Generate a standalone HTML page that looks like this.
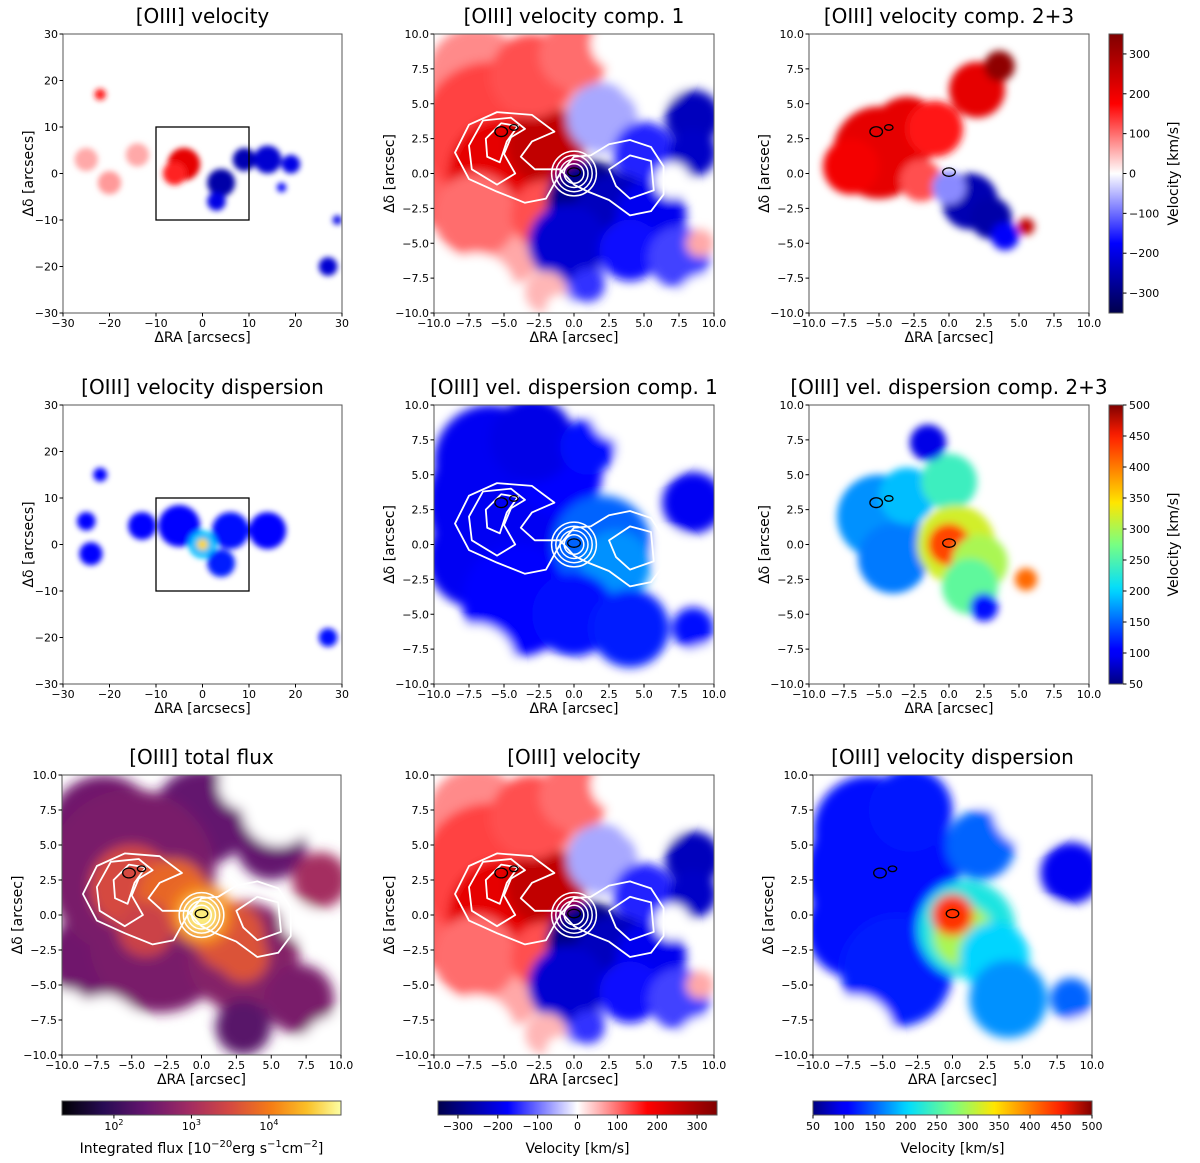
<!DOCTYPE html>
<html><head><meta charset="utf-8">
<style>
html,body{margin:0;padding:0;background:#fff;}
svg{display:block;font-family:"DejaVu Sans","Liberation Sans",sans-serif;}
</style></head>
<body>
<svg id="fig" width="1200" height="1163" viewBox="0 0 1200 1163" xmlns="http://www.w3.org/2000/svg"></svg>
<script>
// ---------- data (blobs: [ra, dec, radius arcsec, value]) ----------
const velWideBlobs = [[-4,2,3.5,210],[-6,0,2.5,150],[4,-2,3,-260],[3,-6,2,-200],[9,3,2.5,-250],[14,3,3,-220],[19,2,2,-200],[-22,17,1.2,160],[-20,-2,2.5,70],[-25,3,2.5,60],[-14,4,2.5,60],[27,-20,2,-220],[29,-10,1,-200],[17,-3,1,-180]];
const dispWideBlobs = [[-5,4,4.5,100],[6,3,4,110],[0,0,3,190],[0,0,1.2,350],[-24,-2,2.5,100],[-22,15,1.5,100],[14,3,4,100],[-13,4,3,100],[4,-4,3,120],[27,-20,2,110],[-25,5,2,100]];
const velMainBlobs = [[-7,7,3.5,80],[-1,6,3,70],[-8,-1,3.5,110],[-5,-5,3,60],[-6,3,5,130],[-5,0,4,210],[-2,2,2.8,260],[-7,-3,3,100],[-3,7,3,120],[0,8.5,2.5,100],[-2,-3,2.5,120],[2,4,2.5,-60],[5,1.5,2.2,-150],[0,-7,2.2,-100],[1,-2,3,-290],[3,-3,3,-240],[-0.5,-5,2.8,-220],[5.5,-3,2.5,-190],[4,-5.5,2.2,-170],[7.5,-6,2.2,-130],[8.5,4,2,-240],[8.5,1.5,1.7,-230],[-2,-8.5,1.5,50],[1,-8,1.2,-140],[9,-5,1,60]];
const velC23Blobs = [[-5,1.5,3.3,210],[-3,3,2.5,210],[-1,3.2,2,160],[2,6,2,210],[3.6,7.7,1.1,330],[-7,0.5,2,190],[-2,-0.5,1.5,120],[1.5,-2,2,-250],[3,-3.2,1.5,-260],[0,-1,1.2,-80],[4,-4.5,1,-180],[5.5,-3.8,0.6,260]];
const dispC1Blobs = [[-6,6,4,95],[-7,-1,3.5,95],[-5,3,5.5,95],[-4,-4,4,100],[-1,5,3,105],[2,0,3.5,150],[3,-1.5,2.5,170],[0,-5,3,110],[8.5,3,2.2,95],[4,-6,2.8,120],[-3,7.5,3,90],[1,7,2,110],[8.5,-6,1.5,110]];
const dispC23Blobs = [[-5,2,3,170],[-3,3.5,2,190],[-4,-1,2.5,160],[0,4.5,2,240],[-1.5,7.3,1.3,90],[0.5,0,2.8,320],[0,0,1.5,430],[2.2,-1.3,2,300],[1.5,-3,2,260],[2.5,-4.5,1,110],[5.5,-2.5,0.8,410]];
const dispMainBlobs = [[-6,6,4,110],[-7,-1,3.5,110],[-5,3,5.5,110],[-4,-4,4,120],[-3,7.5,3,115],[2,5,2.5,150],[1,-1,3.5,220],[0.8,-1.5,2.2,300],[0,0,1.5,440],[3,-3,2.5,200],[8.5,3,2.2,95],[4,-6,2.8,170],[8.5,-6,1.5,150]];
const fluxBlobs = [[-7,6,4,2.5],[0,7,3.5,2.4],[5,5,2.5,2.4],[-8,-3,3,2.5],[-5,3,6,2.6],[-3,-2,5,2.6],[3,-3,4,2.7],[7,-6,2.5,2.6],[3,-8,2,2.3],[8.5,2.5,2,3.0],[-5,2,3,3.5],[-2,1.5,2.5,3.8],[2,-1.5,2.5,3.6],[0,0,2.2,4.1],[0,0,1.3,4.8],[3,-3,1.8,3.6],[-4,-1,2,3.4]];
const holesMain = [[5.5,7.5,2.6],[3,9.3,1.8],[7,-0.5,1.3],[-7,-8.5,2.8],[-9.5,-6.5,1.2],[9.5,-9.5,2.3],[8,-9.5,1.2],[-1,-9.7,1],[9.5,9.5,1.2]];
const velTicks = [-300,-200,-100,0,100,200,300];
const dispTicks = [50,100,150,200,250,300,350,400,450,500];
const fluxTicks = [2,3,4];
const velRange = [-350,350];
const dispRange = [50,500];
const fluxRange = [1.33,4.93];
// contour vertices (arcsec)
const contourA = [[-8.5,1.5],[-7.5,3.5],[-5.5,4.4],[-3,4.2],[-1.4,3],[-3,2.3],[-3.8,1.2],[-2.8,0.3],[-1,0.3],[0,-0.8],[1,-1.3],[2.5,-1.9],[4,-3],[5.5,-2.7],[6.4,-1.5],[6.4,0.5],[5.5,1.9],[4,2.4],[2.5,2.1],[1.2,1.3],[0,1.2],[-1,0],[-2,-1.8],[-3.5,-2.1],[-5.5,-1.3],[-7.5,-0.4]];
const contourB = [[-7.5,2],[-6.5,3.8],[-4.5,4],[-3.5,3.2],[-4.5,2.6],[-5,1.4],[-4.2,0],[-5.5,-0.8],[-7.3,0.3]];
const contourC = [[-6.3,2.5],[-5.2,3.6],[-4,3.4],[-4.8,2.3],[-5.3,0.8],[-6.2,1.2]];
const contourD = [[2.5,0.3],[4,1.3],[5.5,0.9],[5.7,-1.2],[4,-1.8],[3,-0.9]];
const centerRings = [0.7,1.0,1.3,1.6];

const NS='http://www.w3.org/2000/svg';
const svg=document.getElementById('fig');
function mk(tag,parent){const e=document.createElementNS(NS,tag);parent.appendChild(e);return e;}
function lerpStops(stops,t){t=Math.max(0,Math.min(1,t));for(let i=1;i<stops.length;i++){if(t<=stops[i][0]){const a=stops[i-1],b=stops[i];const f=(t-a[0])/(b[0]-a[0]||1);const c=[0,1,2].map(k=>Math.round(a[1][k]+(b[1][k]-a[1][k])*f));return 'rgb('+c.join(',')+')';}}const l=stops[stops.length-1][1];return 'rgb('+l.join(',')+')';}
const seismic=[[0,[0,0,76]],[0.25,[0,0,255]],[0.5,[255,255,255]],[0.75,[255,0,0]],[1,[128,0,0]]];
const jet=[[0,[0,0,128]],[0.11,[0,0,255]],[0.125,[0,0,255]],[0.34,[0,220,255]],[0.5,[120,255,130]],[0.65,[255,230,0]],[0.89,[255,30,0]],[1,[128,0,0]]];
const inferno=[[0,[0,0,4]],[0.15,[40,11,84]],[0.3,[101,21,110]],[0.45,[159,42,99]],[0.6,[212,72,66]],[0.75,[245,125,21]],[0.88,[250,193,39]],[1,[252,255,164]]];
const cmVel=v=>lerpStops(seismic,(v-velRange[0])/(velRange[1]-velRange[0]));
const cmDisp=v=>lerpStops(jet,(v-dispRange[0])/(dispRange[1]-dispRange[0]));
const cmFlux=v=>lerpStops(inferno,(v-fluxRange[0])/(fluxRange[1]-fluxRange[0]));
let uid=0;
const defs=mk('defs',svg);

function panel(cfg){
  const g=mk('g',svg);
  
  
  const {x0,y0,w,h,lim}=cfg;
  const sx=d=>x0+(d+lim)/(2*lim)*w, sy=d=>y0+(lim-d)/(2*lim)*h, sr=r=>r/(2*lim)*w;
  const cid='c'+(uid++);
  const cp=mk('clipPath',defs);cp.setAttribute('id',cid);
  const cr=mk('rect',cp);cr.setAttribute('x',x0);cr.setAttribute('y',y0);cr.setAttribute('width',w);cr.setAttribute('height',h);
  const fid='f'+(uid++);
  const f=mk('filter',defs);f.setAttribute('id',fid);f.setAttribute('x','-50%');f.setAttribute('y','-50%');f.setAttribute('width','200%');f.setAttribute('height','200%');
  const fb=mk('feGaussianBlur',f);fb.setAttribute('stdDeviation',cfg.blur||6);
  const map=mk('g',g);map.setAttribute('clip-path','url(#'+cid+')');
  
  
  const bl=mk('g',map);bl.setAttribute('filter','url(#'+fid+')');
  cfg.blobs.forEach(b=>{const c=mk('circle',bl);c.setAttribute('cx',sx(b[0]));c.setAttribute('cy',sy(b[1]));c.setAttribute('r',sr(b[2]));c.setAttribute('fill',cfg.cm(b[3]));
    
    });
  (cfg.holes||[]).forEach(b=>{const c=mk('circle',bl);c.setAttribute('cx',sx(b[0]));c.setAttribute('cy',sy(b[1]));c.setAttribute('r',sr(b[2]));c.setAttribute('fill','#fff');});
  if(cfg.contours){
    const cg=mk('g',map);
    
    
    [contourA,contourB,contourC,contourD].forEach(pts=>{const p=mk('polygon',cg);p.setAttribute('points',pts.map(q=>sx(q[0])+','+sy(q[1])).join(' '));p.setAttribute('fill','none');p.setAttribute('stroke','#fff');p.setAttribute('stroke-width',1.8);p.setAttribute('stroke-linejoin','round');});
    centerRings.forEach(r=>{const c=mk('circle',cg);c.setAttribute('cx',sx(0));c.setAttribute('cy',sy(0));c.setAttribute('r',sr(r));c.setAttribute('fill','none');c.setAttribute('stroke','#fff');c.setAttribute('stroke-width',1.5);});
  }
  if(lim===10){
    const bk=mk('g',map);
    
    
    [[0,0.1,0.45,0.3],[-5.2,3,0.45,0.35],[-4.3,3.3,0.3,0.2]].forEach(e=>{const c=mk('ellipse',bk);c.setAttribute('cx',sx(e[0]));c.setAttribute('cy',sy(e[1]));c.setAttribute('rx',sr(e[2]));c.setAttribute('ry',sr(e[3]));c.setAttribute('fill','none');c.setAttribute('stroke','#000');c.setAttribute('stroke-width',1.3);});
  }
  if(lim===30){
    const bx=mk('rect',g);bx.setAttribute('x',sx(-10));bx.setAttribute('y',sy(10));bx.setAttribute('width',sx(10)-sx(-10));bx.setAttribute('height',sy(-10)-sy(10));bx.setAttribute('fill','none');bx.setAttribute('stroke','#000');bx.setAttribute('stroke-width',1.3);
    
    
  }
  const fr=mk('rect',g);fr.setAttribute('x',x0);fr.setAttribute('y',y0);fr.setAttribute('width',w);fr.setAttribute('height',h);fr.setAttribute('fill','none');fr.setAttribute('stroke','#555');fr.setAttribute('stroke-width',1);
  
  
  const ticks=lim===30?[-30,-20,-10,0,10,20,30]:[-10,-7.5,-5,-2.5,0,2.5,5,7.5,10];
  const fmt=v=>{const s=lim===30?String(v):v.toFixed(1);return s.replace('-','\u2212');};
  ticks.forEach(t=>{
    let l=mk('line',g);l.setAttribute('x1',sx(t));l.setAttribute('x2',sx(t));l.setAttribute('y1',y0+h);l.setAttribute('y2',y0+h+3.5);l.setAttribute('stroke','#000');
    let tx=mk('text',g);tx.setAttribute('x',sx(t));tx.setAttribute('y',y0+h+14);tx.setAttribute('font-size',11);tx.setAttribute('text-anchor','middle');tx.textContent=fmt(t);
    
    
    l=mk('line',g);l.setAttribute('y1',sy(t));l.setAttribute('y2',sy(t));l.setAttribute('x1',x0);l.setAttribute('x2',x0-3.5);l.setAttribute('stroke','#000');
    tx=mk('text',g);tx.setAttribute('x',x0-5);tx.setAttribute('y',sy(t)+4);tx.setAttribute('font-size',11);tx.setAttribute('text-anchor','end');tx.textContent=fmt(t);
    
    
  });
  const unit=lim===30?'arcsecs':'arcsec';
  let t=mk('text',g);t.setAttribute('x',x0+w/2);t.setAttribute('y',y0+h+29);t.setAttribute('font-size',14);t.setAttribute('text-anchor','middle');t.textContent='\u0394RA [' + unit + ']';
  
  
  t=mk('text',g);t.setAttribute('transform','translate('+(x0-(lim===30?30:40))+','+(y0+h/2)+') rotate(-90)');t.setAttribute('font-size',14);t.setAttribute('text-anchor','middle');t.textContent='\u0394\u03b4 [' + unit + ']';
  
  
  t=mk('text',g);t.setAttribute('x',x0+w/2);t.setAttribute('y',y0-11);t.setAttribute('font-size',20);t.setAttribute('text-anchor','middle');t.textContent=cfg.title;
  
  
}

function colorbar(cfg){
  const g=mk('g',svg);
  
  
  const gid='g'+(uid++);
  const lg=mk('linearGradient',defs);lg.setAttribute('id',gid);
  if(cfg.vertical){lg.setAttribute('x1',0);lg.setAttribute('y1',1);lg.setAttribute('x2',0);lg.setAttribute('y2',0);}
  for(let i=0;i<=40;i++){const s=mk('stop',lg);s.setAttribute('offset',i/40);s.setAttribute('stop-color',cfg.cm(cfg.range[0]+(cfg.range[1]-cfg.range[0])*i/40));}
  const r=mk('rect',g);r.setAttribute('x',cfg.x);r.setAttribute('y',cfg.y);r.setAttribute('width',cfg.w);r.setAttribute('height',cfg.h);r.setAttribute('fill','url(#'+gid+')');r.setAttribute('stroke','#555');
  const pos=v=>(v-cfg.range[0])/(cfg.range[1]-cfg.range[0]);
  cfg.ticks.forEach((v,i)=>{
    const l=mk('line',g);const tx=mk('text',g);tx.setAttribute('font-size',cfg.fs||11);
    
    
    if(cfg.vertical){const y=cfg.y+cfg.h*(1-pos(v));l.setAttribute('x1',cfg.x+cfg.w);l.setAttribute('x2',cfg.x+cfg.w+3.5);l.setAttribute('y1',y);l.setAttribute('y2',y);tx.setAttribute('x',cfg.x+cfg.w+6);tx.setAttribute('y',y+4);}
    else{const x=cfg.x+cfg.w*pos(v);l.setAttribute('x1',x);l.setAttribute('x2',x);l.setAttribute('y1',cfg.y+cfg.h);l.setAttribute('y2',cfg.y+cfg.h+3.5);tx.setAttribute('x',x);tx.setAttribute('y',cfg.y+cfg.h+15);tx.setAttribute('text-anchor','middle');}
    l.setAttribute('stroke','#000');
    if(cfg.log){tx.textContent='10';const sp=mk('tspan',tx);sp.setAttribute('dy',-5);sp.setAttribute('font-size',8);sp.textContent=String(v);}
    else tx.textContent=String(v).replace('-','\u2212');
  });
  const t=mk('text',g);t.setAttribute('font-size',14);t.setAttribute('text-anchor','middle');
  
  
  if(cfg.vertical)t.setAttribute('transform','translate('+(cfg.x+cfg.w+55)+','+(cfg.y+cfg.h/2)+') rotate(-90)');
  else{t.setAttribute('x',cfg.x+cfg.w/2);t.setAttribute('y',cfg.y+cfg.h+38);}
  if(cfg.log){t.textContent='Integrated flux [10';let s=mk('tspan',t);s.setAttribute('dy',-6);s.setAttribute('font-size',10);s.textContent='\u221220';s=mk('tspan',t);s.setAttribute('dy',6);s.textContent='erg s';s=mk('tspan',t);s.setAttribute('dy',-6);s.setAttribute('font-size',10);s.textContent='\u22121';s=mk('tspan',t);s.setAttribute('dy',6);s.textContent='cm';s=mk('tspan',t);s.setAttribute('dy',-6);s.setAttribute('font-size',10);s.textContent='\u22122';s=mk('tspan',t);s.setAttribute('dy',6);s.textContent=']';}
  else t.textContent=cfg.label;
}

panel({name:'panel-velocity-wide',x0:63,y0:34,w:279,h:279,lim:30,title:'[OIII] velocity',blobs:velWideBlobs,cm:cmVel,blur:3});
panel({name:'panel-velocity-comp1',x0:434,y0:34,w:280,h:279,lim:10,title:'[OIII] velocity comp. 1',blobs:velMainBlobs,holes:holesMain,cm:cmVel,contours:true,blur:5});
panel({name:'panel-velocity-comp23',x0:809,y0:34,w:280,h:279,lim:10,title:'[OIII] velocity comp. 2+3',blobs:velC23Blobs,cm:cmVel,blur:4});
panel({name:'panel-dispersion-wide',x0:63,y0:405,w:279,h:279,lim:30,title:'[OIII] velocity dispersion',blobs:dispWideBlobs,cm:cmDisp,blur:3});
panel({name:'panel-dispersion-comp1',x0:434,y0:405,w:280,h:279,lim:10,title:'[OIII] vel. dispersion comp. 1',blobs:dispC1Blobs,holes:holesMain,cm:cmDisp,contours:true,blur:5});
panel({name:'panel-dispersion-comp23',x0:809,y0:405,w:280,h:279,lim:10,title:'[OIII] vel. dispersion comp. 2+3',blobs:dispC23Blobs,cm:cmDisp,blur:4});
panel({name:'panel-total-flux',x0:62,y0:775,w:279,h:280,lim:10,title:'[OIII] total flux',blobs:fluxBlobs,holes:holesMain,cm:cmFlux,contours:true,blur:6});
panel({name:'panel-velocity-total',x0:434,y0:775,w:280,h:280,lim:10,title:'[OIII] velocity',blobs:velMainBlobs,holes:holesMain,cm:cmVel,contours:true,blur:5});
panel({name:'panel-dispersion-total',x0:813,y0:775,w:279,h:280,lim:10,title:'[OIII] velocity dispersion',blobs:dispMainBlobs,holes:holesMain,cm:cmDisp,blur:5});

colorbar({name:'colorbar-velocity-right',x:1109,y:34,w:14,h:279,vertical:true,range:velRange,ticks:velTicks,cm:cmVel,label:'Velocity [km/s]'});
colorbar({name:'colorbar-dispersion-right',x:1109,y:405,w:14,h:279,vertical:true,range:dispRange,ticks:dispTicks,cm:cmDisp,label:'Velocity [km/s]'});
colorbar({name:'colorbar-flux-bottom',x:62,y:1101,w:279,h:14,range:fluxRange,ticks:fluxTicks,cm:cmFlux,log:true});
colorbar({name:'colorbar-velocity-bottom',x:438,y:1101,w:279,h:14,range:velRange,ticks:velTicks,cm:cmVel,label:'Velocity [km/s]'});
colorbar({name:'colorbar-dispersion-bottom',x:813,y:1101,w:279,h:14,range:dispRange,ticks:dispTicks,cm:cmDisp,label:'Velocity [km/s]'});
</script>
</body></html>
